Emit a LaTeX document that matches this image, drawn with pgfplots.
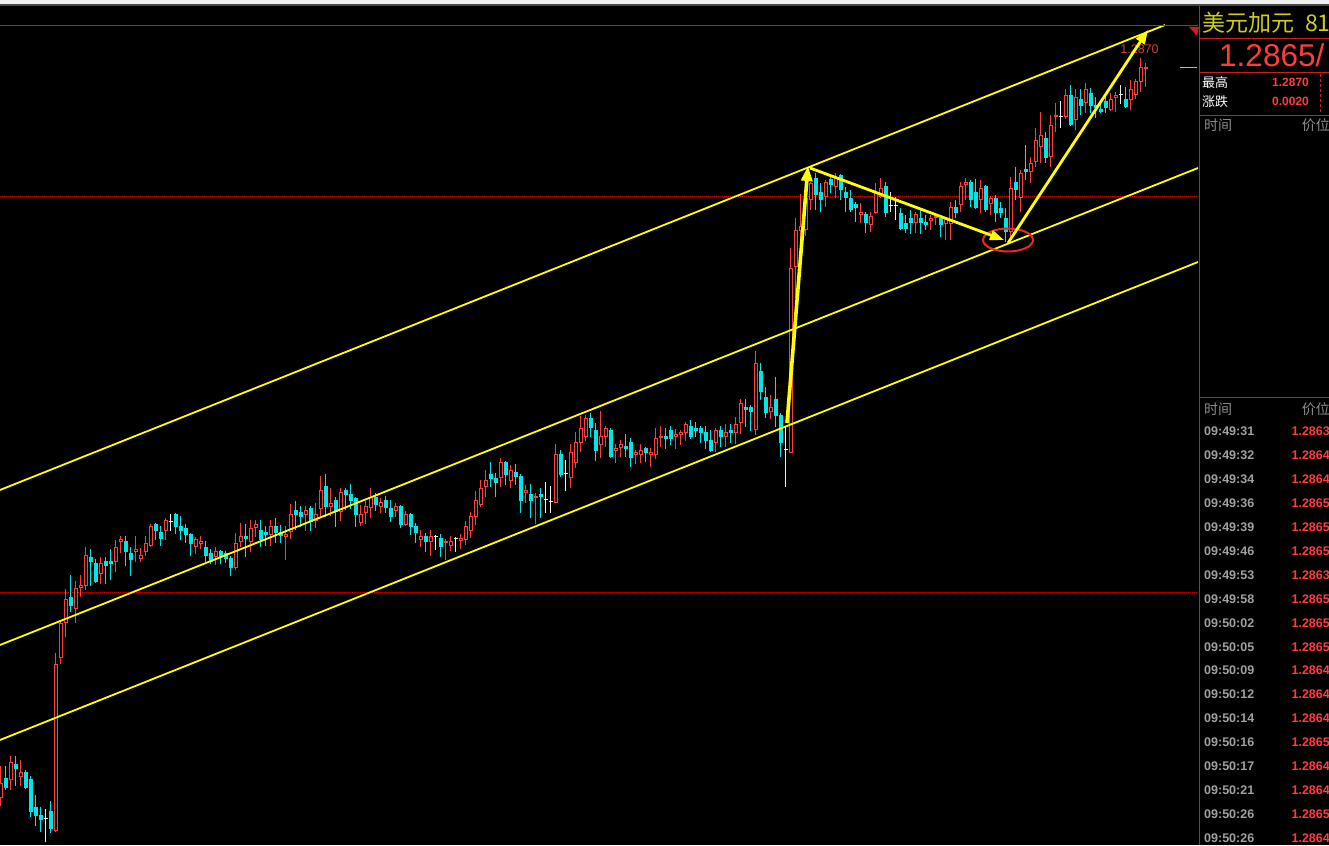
\documentclass[border=0pt]{standalone}
\usepackage{fontspec}
\setmainfont{Liberation Sans}
\newfontfamily\cjk{Noto Sans CJK SC}
\usepackage{pgfplots}
\pgfplotsset{compat=1.18}
\usepackage{pgfplotstable}
\usetikzlibrary{arrows.meta}

\definecolor{cup}{RGB}{255,60,60}
\definecolor{cdn}{RGB}{0,230,230}
\definecolor{cdoji}{RGB}{235,235,235}
\definecolor{chan}{RGB}{255,255,0}
\definecolor{gridred}{RGB}{205,0,0}
\definecolor{panelred}{RGB}{200,30,30}
\definecolor{titleyel}{RGB}{205,205,20}
\definecolor{pricered}{RGB}{255,60,60}
\definecolor{labelgray}{RGB}{140,140,140}
\definecolor{timegray}{RGB}{160,160,160}
\definecolor{hilabel}{RGB}{210,60,60}
\definecolor{ringred}{RGB}{235,40,40}

\pgfplotsset{
  % t = 1 up candle, -1 down candle, 0 doji
  only kind/.style={restrict expr to domain={\thisrow{t}}{#1}},
  candle seg/.style 2 args={forget plot, mark=none, draw=#1, line width=#2,
    quiver/every arrow/.style={draw=#1, line width=#2}},
}

% USD/CAD candles: index, open, high, low, close, kind
\pgfplotstableread{
i o h l c t
0 1.27220 1.27284 1.27204 1.27250 1
1 1.27260 1.27284 1.27236 1.27240 -1
2 1.27256 1.27304 1.27236 1.27292 1
3 1.27288 1.27304 1.27244 1.27278 -1
4 1.27262 1.27296 1.27244 1.27272 1
5 1.27272 1.27276 1.27238 1.27240 -1
6 1.27258 1.27264 1.27182 1.27192 -1
7 1.27202 1.27226 1.27164 1.27184 -1
8 1.27186 1.27202 1.27152 1.27176 -1
9 1.27178 1.27198 1.27132 1.27178 0
10 1.27194 1.27214 1.27150 1.27158 -1
11 1.27154 1.27510 1.27152 1.27488 1
12 1.27500 1.27576 1.27488 1.27570 1
13 1.27570 1.27638 1.27542 1.27618 1
14 1.27622 1.27666 1.27592 1.27604 -1
15 1.27598 1.27654 1.27570 1.27640 1
16 1.27640 1.27666 1.27622 1.27646 1
17 1.27644 1.27722 1.27636 1.27706 1
18 1.27702 1.27718 1.27644 1.27692 -1
19 1.27690 1.27698 1.27650 1.27652 -1
20 1.27668 1.27702 1.27648 1.27690 1
21 1.27694 1.27702 1.27648 1.27684 -1
22 1.27694 1.27718 1.27656 1.27688 -1
23 1.27692 1.27736 1.27672 1.27722 1
24 1.27732 1.27744 1.27710 1.27738 1
25 1.27734 1.27744 1.27684 1.27712 -1
26 1.27710 1.27722 1.27664 1.27696 -1
27 1.27712 1.27744 1.27692 1.27718 1
28 1.27698 1.27720 1.27692 1.27706 1
29 1.27712 1.27744 1.27704 1.27730 1
30 1.27724 1.27768 1.27722 1.27764 1
31 1.27768 1.27770 1.27736 1.27754 -1
32 1.27752 1.27764 1.27724 1.27738 -1
33 1.27754 1.27780 1.27736 1.27776 1
34 1.27772 1.27788 1.27754 1.27772 0
35 1.27788 1.27790 1.27748 1.27762 -1
36 1.27764 1.27784 1.27736 1.27754 -1
37 1.27760 1.27768 1.27730 1.27746 -1
38 1.27748 1.27750 1.27704 1.27728 -1
39 1.27722 1.27742 1.27708 1.27738 1
40 1.27728 1.27744 1.27718 1.27734 1
41 1.27722 1.27734 1.27692 1.27704 -1
42 1.27710 1.27718 1.27688 1.27692 -1
43 1.27702 1.27722 1.27686 1.27714 1
44 1.27714 1.27716 1.27688 1.27702 -1
45 1.27710 1.27714 1.27690 1.27698 -1
46 1.27700 1.27704 1.27664 1.27680 -1
47 1.27680 1.27750 1.27676 1.27730 1
48 1.27732 1.27770 1.27722 1.27744 1
49 1.27744 1.27768 1.27702 1.27738 -1
50 1.27732 1.27776 1.27712 1.27760 1
51 1.27760 1.27776 1.27742 1.27768 1
52 1.27756 1.27776 1.27722 1.27736 -1
53 1.27752 1.27764 1.27724 1.27746 -1
54 1.27746 1.27776 1.27724 1.27764 1
55 1.27764 1.27780 1.27730 1.27750 -1
56 1.27752 1.27766 1.27730 1.27744 -1
57 1.27742 1.27764 1.27696 1.27748 1
58 1.27752 1.27808 1.27738 1.27788 1
59 1.27796 1.27814 1.27756 1.27786 -1
60 1.27792 1.27804 1.27762 1.27782 -1
61 1.27786 1.27804 1.27754 1.27796 1
62 1.27800 1.27804 1.27754 1.27772 -1
63 1.27774 1.27810 1.27760 1.27788 1
64 1.27798 1.27864 1.27782 1.27836 1
65 1.27844 1.27868 1.27782 1.27802 -1
66 1.27802 1.27840 1.27784 1.27810 1
67 1.27816 1.27822 1.27762 1.27792 -1
68 1.27792 1.27840 1.27774 1.27832 1
69 1.27836 1.27840 1.27796 1.27826 -1
70 1.27828 1.27848 1.27798 1.27814 -1
71 1.27820 1.27822 1.27762 1.27786 -1
72 1.27770 1.27806 1.27764 1.27788 1
73 1.27790 1.27814 1.27768 1.27804 1
74 1.27800 1.27840 1.27780 1.27822 1
75 1.27822 1.27830 1.27794 1.27806 -1
76 1.27802 1.27820 1.27790 1.27812 1
77 1.27816 1.27824 1.27790 1.27800 -1
78 1.27800 1.27816 1.27772 1.27782 -1
79 1.27794 1.27810 1.27782 1.27804 1
80 1.27804 1.27806 1.27760 1.27766 -1
81 1.27766 1.27794 1.27764 1.27788 1
82 1.27788 1.27790 1.27746 1.27762 -1
83 1.27764 1.27770 1.27730 1.27750 -1
84 1.27736 1.27756 1.27722 1.27744 1
85 1.27744 1.27750 1.27712 1.27732 -1
86 1.27732 1.27756 1.27704 1.27744 1
87 1.27742 1.27746 1.27716 1.27742 0
88 1.27740 1.27748 1.27702 1.27722 -1
89 1.27730 1.27738 1.27696 1.27734 1
90 1.27724 1.27744 1.27714 1.27734 1
91 1.27738 1.27742 1.27712 1.27738 0
92 1.27734 1.27748 1.27718 1.27740 1
93 1.27736 1.27774 1.27726 1.27764 1
94 1.27754 1.27792 1.27740 1.27784 1
95 1.27782 1.27834 1.27766 1.27816 1
96 1.27806 1.27856 1.27802 1.27840 1
97 1.27842 1.27876 1.27822 1.27856 1
98 1.27868 1.27892 1.27842 1.27858 -1
99 1.27860 1.27870 1.27822 1.27850 -1
100 1.27860 1.27900 1.27842 1.27892 1
101 1.27892 1.27894 1.27846 1.27866 -1
102 1.27854 1.27886 1.27840 1.27876 1
103 1.27872 1.27888 1.27846 1.27862 -1
104 1.27864 1.27868 1.27790 1.27814 -1
105 1.27830 1.27846 1.27810 1.27836 1
106 1.27828 1.27848 1.27780 1.27814 -1
107 1.27820 1.27830 1.27768 1.27824 1
108 1.27828 1.27840 1.27780 1.27822 -1
109 1.27816 1.27852 1.27790 1.27816 0
110 1.27812 1.27844 1.27790 1.27812 0
111 1.27810 1.27928 1.27810 1.27908 1
112 1.27908 1.27916 1.27862 1.27866 -1
113 1.27868 1.27896 1.27834 1.27868 0
114 1.27860 1.27928 1.27840 1.27912 1
115 1.27890 1.27952 1.27880 1.27932 1
116 1.27930 1.27984 1.27912 1.27960 1
117 1.27942 1.27986 1.27934 1.27980 1
118 1.27980 1.27990 1.27942 1.27960 -1
119 1.27956 1.27970 1.27894 1.27914 -1
120 1.27926 1.27994 1.27900 1.27944 1
121 1.27942 1.27964 1.27922 1.27960 1
122 1.27956 1.27960 1.27900 1.27902 -1
123 1.27914 1.27928 1.27890 1.27920 1
124 1.27920 1.27936 1.27902 1.27928 1
125 1.27924 1.27948 1.27902 1.27918 -1
126 1.27932 1.27940 1.27882 1.27900 -1
127 1.27906 1.27916 1.27888 1.27912 1
128 1.27906 1.27928 1.27890 1.27916 1
129 1.27920 1.27922 1.27892 1.27910 -1
130 1.27906 1.27920 1.27882 1.27912 1
131 1.27906 1.27960 1.27898 1.27940 1
132 1.27940 1.27964 1.27922 1.27944 1
133 1.27944 1.27960 1.27918 1.27938 -1
134 1.27956 1.27964 1.27926 1.27938 -1
135 1.27942 1.27958 1.27918 1.27948 1
136 1.27946 1.27956 1.27926 1.27952 1
137 1.27950 1.27972 1.27934 1.27968 1
138 1.27964 1.27976 1.27938 1.27942 -1
139 1.27960 1.27972 1.27942 1.27954 -1
140 1.27960 1.27964 1.27930 1.27950 -1
141 1.27952 1.27964 1.27918 1.27934 -1
142 1.27936 1.27956 1.27912 1.27914 -1
143 1.27930 1.27960 1.27912 1.27956 1
144 1.27956 1.27964 1.27922 1.27942 -1
145 1.27942 1.27968 1.27922 1.27952 1
146 1.27956 1.27968 1.27930 1.27950 -1
147 1.27950 1.27982 1.27928 1.27968 1
148 1.27970 1.28018 1.27948 1.28010 1
149 1.28002 1.28018 1.27962 1.27996 -1
150 1.28002 1.28006 1.27954 1.27992 -1
151 1.27956 1.28114 1.27946 1.28090 1
152 1.28074 1.28090 1.28016 1.28032 -1
153 1.28022 1.28042 1.27980 1.27990 -1
154 1.27992 1.28026 1.27978 1.28002 1
155 1.28018 1.28062 1.27962 1.27984 -1
156 1.27986 1.27990 1.27902 1.27930 -1
157 1.27916 1.27962 1.27842 1.27916 0
158 1.27910 1.28320 1.27910 1.28280 1
159 1.28282 1.28380 1.28220 1.28356 1
160 1.28354 1.28428 1.28316 1.28364 1
161 1.28356 1.28450 1.28344 1.28420 1
162 1.28416 1.28452 1.28396 1.28450 1
163 1.28460 1.28470 1.28396 1.28426 -1
164 1.28432 1.28450 1.28392 1.28416 -1
165 1.28422 1.28456 1.28402 1.28452 1
166 1.28458 1.28462 1.28430 1.28446 -1
167 1.28442 1.28470 1.28420 1.28462 1
168 1.28466 1.28468 1.28416 1.28436 -1
169 1.28432 1.28442 1.28392 1.28420 -1
170 1.28420 1.28436 1.28392 1.28396 -1
171 1.28408 1.28412 1.28372 1.28400 -1
172 1.28386 1.28410 1.28370 1.28392 1
173 1.28388 1.28392 1.28350 1.28370 -1
174 1.28366 1.28392 1.28352 1.28384 1
175 1.28390 1.28450 1.28388 1.28432 1
176 1.28422 1.28460 1.28420 1.28440 1
177 1.28444 1.28452 1.28382 1.28390 -1
178 1.28404 1.28432 1.28392 1.28404 0
179 1.28404 1.28422 1.28376 1.28404 0
180 1.28390 1.28400 1.28356 1.28358 -1
181 1.28370 1.28386 1.28350 1.28358 -1
182 1.28380 1.28396 1.28348 1.28370 -1
183 1.28370 1.28392 1.28350 1.28388 1
184 1.28380 1.28396 1.28348 1.28370 -1
185 1.28372 1.28386 1.28356 1.28366 -1
186 1.28374 1.28386 1.28356 1.28380 1
187 1.28380 1.28390 1.28366 1.28384 1
188 1.28380 1.28386 1.28342 1.28366 -1
189 1.28368 1.28382 1.28336 1.28380 1
190 1.28368 1.28412 1.28336 1.28402 1
191 1.28402 1.28416 1.28380 1.28390 -1
192 1.28406 1.28452 1.28392 1.28444 1
193 1.28446 1.28460 1.28416 1.28452 1
194 1.28452 1.28456 1.28402 1.28416 -1
195 1.28432 1.28458 1.28398 1.28400 -1
196 1.28416 1.28456 1.28390 1.28440 1
197 1.28444 1.28446 1.28392 1.28396 -1
198 1.28408 1.28424 1.28386 1.28420 1
199 1.28420 1.28426 1.28372 1.28390 -1
200 1.28400 1.28412 1.28380 1.28390 -1
201 1.28380 1.28400 1.28332 1.28352 -1
202 1.28352 1.28462 1.28342 1.28440 1
203 1.28452 1.28482 1.28416 1.28436 -1
204 1.28420 1.28476 1.28392 1.28470 1
205 1.28478 1.28526 1.28456 1.28472 -1
206 1.28472 1.28502 1.28450 1.28490 1
207 1.28492 1.28560 1.28482 1.28536 1
208 1.28522 1.28592 1.28490 1.28546 1
209 1.28540 1.28552 1.28490 1.28500 -1
210 1.28502 1.28586 1.28482 1.28566 1
211 1.28582 1.28610 1.28552 1.28586 1
212 1.28582 1.28614 1.28560 1.28582 0
213 1.28582 1.28638 1.28578 1.28626 1
214 1.28626 1.28646 1.28564 1.28566 -1
215 1.28576 1.28638 1.28556 1.28622 1
216 1.28618 1.28638 1.28586 1.28604 -1
217 1.28610 1.28650 1.28590 1.28638 1
218 1.28630 1.28640 1.28590 1.28604 -1
219 1.28606 1.28622 1.28580 1.28600 -1
220 1.28598 1.28608 1.28590 1.28592 -1
221 1.28614 1.28622 1.28590 1.28600 -1
222 1.28596 1.28630 1.28594 1.28618 1
223 1.28620 1.28632 1.28592 1.28626 1
224 1.28626 1.28646 1.28608 1.28626 0
225 1.28618 1.28642 1.28600 1.28602 -1
226 1.28616 1.28656 1.28596 1.28638 1
227 1.28626 1.28658 1.28618 1.28654 1
228 1.28652 1.28700 1.28632 1.28682 1
229 1.28678 1.28690 1.28642 1.28682 1
}\candles

\begin{document}
\begin{tikzpicture}
\useasboundingbox (0,0) rectangle (1329pt,845pt);
\clip (0,0) rectangle (1329pt,845pt);
\fill[black] (0,0) rectangle (1329pt,845pt);

\begin{axis}[at={(0pt,0pt)}, anchor=south west, scale only axis,
  width=1198pt, height=845pt,
  xmin=-0.1, xmax=239.5, ymin=1.27126, ymax=1.28816,
  hide axis, clip=true]

% horizontal reference levels
\addplot[gridred, line width=1pt, dash pattern=on 1pt off 1pt, forget plot]
  coordinates {(-0.1,1.284232) (239.5,1.284232)};
\addplot[gridred, line width=1pt, dash pattern=on 1pt off 1pt, forget plot]
  coordinates {(-0.1,1.27630) (239.5,1.27630)};

% wicks, low to high
\addplot[candle seg={cup}{1pt}, only kind={0.5:1.5},
  quiver={u=0, v=\thisrow{h}-\thisrow{l}}]
  table[x=i, y=l] {\candles};
\addplot[candle seg={cdn}{1pt}, only kind={-1.5:-0.5},
  quiver={u=0, v=\thisrow{h}-\thisrow{l}}]
  table[x=i, y=l] {\candles};
\addplot[candle seg={cdoji}{1pt}, only kind={-0.5:0.5},
  quiver={u=0, v=\thisrow{h}-\thisrow{l}}]
  table[x=i, y=l] {\candles};

% hollow up bodies: red frame, black core
\addplot[candle seg={cup}{4pt}, only kind={0.5:1.5},
  quiver={u=0, v=\thisrow{c}-\thisrow{o}}]
  table[x=i, y=o] {\candles};
\addplot[candle seg={black}{2pt}, only kind={0.5:1.5},
  quiver={u=0, v={max(\thisrow{c}-\thisrow{o}-0.00004,0)}}]
  table[x=i, y expr=\thisrow{o}+0.00002] {\candles};
% filled down bodies
\addplot[candle seg={cdn}{4pt}, only kind={-1.5:-0.5},
  quiver={u=0, v=\thisrow{c}-\thisrow{o}}]
  table[x=i, y=o] {\candles};
% doji ticks
\addplot[candle seg={cdoji}{1pt}, only kind={-0.5:0.5},
  quiver={u=0.8, v=0}]
  table[x expr=\thisrow{i}-0.4, y=o] {\candles};

% rising channel
\addplot[chan, line width=1.8pt, forget plot] coordinates {(-0.1,1.27836) (232.9,1.28766)};
\addplot[chan, line width=1.8pt, forget plot] coordinates {(-0.1,1.27526) (239.5,1.28480)};
\addplot[chan, line width=1.8pt, forget plot] coordinates {(-0.1,1.27336) (239.5,1.28292)};

% session high label
\node[text=hilabel, font=\fontsize{12.5}{14}\selectfont, anchor=base, inner sep=0pt]
  at ([yshift=4pt]axis cs:227.8,1.28700) {1.2870};

% swing markers
\draw[ringred, line width=2pt] (axis cs:201.5,1.28336) ellipse [x radius=25pt, y radius=11.5pt];
\addplot[chan, line width=3.6pt, -{Triangle[length=15pt,width=11pt]}, forget plot]
  coordinates {(157.3,1.27970) (161.5,1.28484)};
\addplot[chan, line width=2.8pt, -{Triangle[length=14pt,width=10pt]}, forget plot]
  coordinates {(161.9,1.28480) (200.7,1.28336)};
\addplot[chan, line width=2.8pt, -{Triangle[length=14pt,width=10pt]}, forget plot]
  coordinates {(201.5,1.28330) (229.5,1.28756)};
\end{axis}

% quote panel and window frame (pixel-like coordinates, y downwards)
\begin{scope}[shift={(0,845pt)}, x=1pt, y=-1pt]
  \fill[gray!12] (0,0) rectangle (1329,4);
  \fill[black!72] (0,4) rectangle (1329,6);
  \draw[panelred, line width=1pt] (0,25.5) -- (1198,25.5);
  \fill[black] (1199,6) rectangle (1329,845);
  \draw[panelred, line width=1pt] (1199.5,6) -- (1199.5,845);
  \draw[panelred, line width=1pt] (1199.5,38.5) -- (1329,38.5);
  \draw[panelred, line width=1pt] (1199.5,72.5) -- (1329,72.5);
  \draw[panelred, line width=1pt] (1199.5,115.5) -- (1329,115.5);
  \draw[panelred, line width=1pt] (1199.5,397.5) -- (1329,397.5);
  \draw[panelred, line width=1pt, dash pattern=on 3pt off 2pt] (1320.5,74) -- (1320.5,113);
  \fill[panelred] (1189,27) -- (1199,27) -- (1197,36) -- cycle;
  \draw[titleyel, line width=1pt] (1180,67.5) -- (1197,67.5);

  \node[anchor=base west, inner sep=0pt, text=titleyel, font=\cjk\fontsize{23}{25}\selectfont]
    at (1202,32) {美元加元};
  \node[anchor=base west, inner sep=0pt, text=titleyel, font=\cjk\fontsize{23}{25}\selectfont]
    at (1305,32) {81};
  \node[anchor=base west, inner sep=0pt, text=pricered, font=\fontsize{31.5}{33}\selectfont]
    at (1219,67) {1.2865/};

  \node[anchor=base west, inner sep=0pt, text=white, font=\cjk\fontsize{13}{15}\selectfont]
    at (1202,88) {最高};
  \node[anchor=base west, inner sep=0pt, text=pricered, font=\bfseries\fontsize{12}{14}\selectfont]
    at (1272,87) {1.2870};
  \node[anchor=base west, inner sep=0pt, text=white, font=\cjk\fontsize{13}{15}\selectfont]
    at (1202,107) {涨跌};
  \node[anchor=base west, inner sep=0pt, text=pricered, font=\bfseries\fontsize{12}{14}\selectfont]
    at (1272,106) {0.0020};

  \node[anchor=base west, inner sep=0pt, text=labelgray, font=\cjk\fontsize{14}{16}\selectfont]
    at (1204,131) {时间};
  \node[anchor=base east, inner sep=0pt, text=labelgray, font=\cjk\fontsize{14}{16}\selectfont]
    at (1330,131) {价位};
  \node[anchor=base west, inner sep=0pt, text=labelgray, font=\cjk\fontsize{14}{16}\selectfont]
    at (1204,415) {时间};
  \node[anchor=base east, inner sep=0pt, text=labelgray, font=\cjk\fontsize{14}{16}\selectfont]
    at (1330,415) {价位};

  \foreach \t/\p [count=\n from 0] in {09:49:31/1.2863, 09:49:32/1.2864, 09:49:34/1.2864,
      09:49:36/1.2865, 09:49:39/1.2865, 09:49:46/1.2865, 09:49:53/1.2863, 09:49:58/1.2865,
      09:50:02/1.2865, 09:50:05/1.2865, 09:50:09/1.2864, 09:50:12/1.2864, 09:50:14/1.2864,
      09:50:16/1.2865, 09:50:17/1.2864, 09:50:21/1.2864, 09:50:26/1.2865, 09:50:26/1.2864}{
    \node[anchor=base west, inner sep=0pt, text=timegray, font=\bfseries\fontsize{12.5}{14}\selectfont]
      at (1204,436+23.9*\n) {\t};
    \node[anchor=base east, inner sep=0pt, text=pricered, font=\bfseries\fontsize{12.5}{14}\selectfont]
      at (1330,436+23.9*\n) {\p};
  }
\end{scope}
\end{tikzpicture}
\end{document}
